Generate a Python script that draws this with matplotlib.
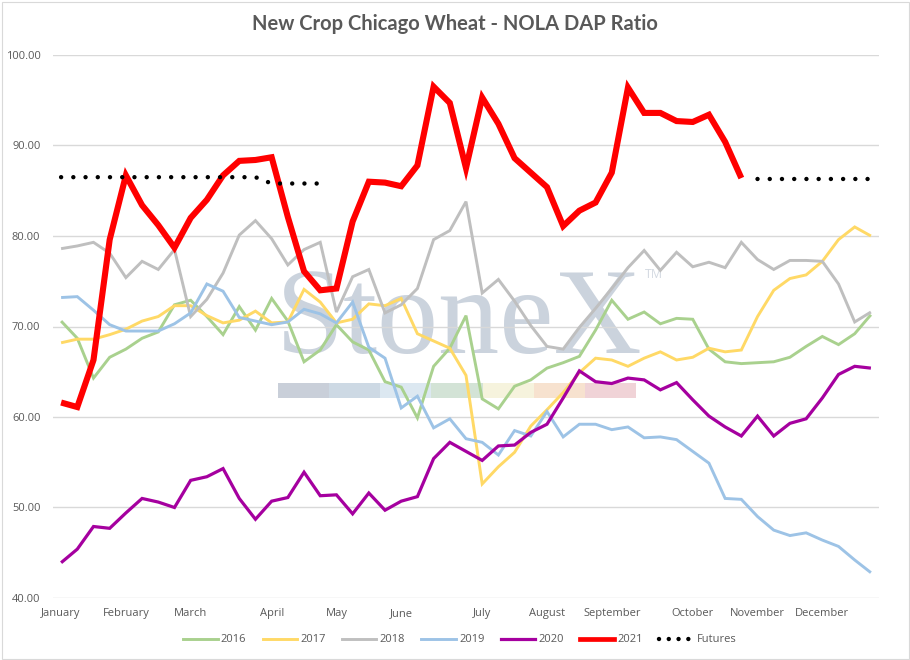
import numpy as np
import matplotlib
matplotlib.use("Agg")
import matplotlib.pyplot as plt
from matplotlib.lines import Line2D
from matplotlib.patches import Rectangle

nan = np.nan

# ---------------- data ----------------
month_labels = ["January", "February", "March", "April", "May", "June",
                "July", "August", "September", "October", "November", "December"]
month_week_index = [0, 4, 8, 13, 17, 21, 26, 30, 34, 39, 43, 47]
n_weeks = 51

y2016 = [70.6, 68.7, 64.3, 66.6, 67.5, 68.7, 69.4, 72.4, 72.9, 71.1,
         69.1, 72.2, 69.6, 73.1, 70.6, 66.1, 67.4, 70.2, 68.3, 67.4,
         63.9, 63.3, 59.9, 65.6, 67.6, 71.2, 62.0, 60.9, 63.4, 64.1,
         65.4, 66.0, 66.7, 69.6, 72.9, 70.8, 71.6, 70.3, 70.9, 70.8,
         67.5, 66.1, 65.9, 66.0, 66.1, 66.6, 67.8, 68.9, 68.0, 69.2, 71.3]

y2017 = [68.2, 68.6, 68.6, 69.1, 69.7, 70.6, 71.1, 72.3, 72.3, 71.2,
         70.4, 70.7, 71.7, 70.4, 70.5, 74.1, 72.7, 70.4, 70.8, 72.5,
         72.3, 73.1, 69.2, 68.4, 67.6, 64.6, 52.6, 54.5, 56.1, 59.0,
         60.8, 62.7, 64.9, 66.5, 66.3, 65.6, 66.5, 67.2, 66.3, 66.6,
         67.6, 67.2, 67.4, 71.1, 74.0, 75.3, 75.7, 77.2, 79.6, 81.0, 80.0]

y2018 = [78.6, 78.9, 79.3, 78.1, 75.4, 77.2, 76.3, 78.5, 71.1, 73.0,
         75.9, 80.1, 81.7, 79.7, 76.8, 78.5, 79.3, 71.6, 75.5, 76.3,
         71.5, 72.4, 74.2, 79.6, 80.6, 83.8, 73.7, 75.2, 72.8, 70.1,
         67.8, 67.5, 69.9, 72.0, 74.2, 76.5, 78.4, 76.2, 78.2, 76.6,
         77.1, 76.5, 79.3, 77.4, 76.3, 77.3, 77.3, 77.2, 74.7, 70.5, 71.6]

y2019 = [73.2, 73.3, 71.8, 70.2, 69.5, 69.5, 69.5, 70.3, 71.5, 74.7,
         73.9, 71.0, 70.6, 70.2, 70.5, 71.9, 71.4, 70.4, 72.7, 67.7,
         66.5, 61.0, 62.3, 58.8, 59.8, 57.6, 57.2, 55.8, 58.5, 57.9,
         60.6, 57.8, 59.2, 59.2, 58.6, 58.9, 57.7, 57.8, 57.5, 56.2,
         54.9, 51.0, 50.9, 49.0, 47.5, 46.9, 47.2, 46.4, 45.7, 44.2, 42.8]

y2020 = [43.9, 45.4, 47.9, 47.7, 49.4, 51.0, 50.6, 50.0, 53.0, 53.4,
         54.3, 51.0, 48.7, 50.7, 51.1, 53.9, 51.3, 51.4, 49.3, 51.6,
         49.7, 50.7, 51.2, 55.4, 57.2, 56.2, 55.2, 56.8, 56.9, 58.3,
         59.2, 62.1, 65.1, 63.9, 63.7, 64.3, 64.1, 63.0, 63.8, 61.9,
         60.1, 58.9, 57.9, 60.1, 57.9, 59.3, 59.8, 62.1, 64.7, 65.6, 65.4]

y2021 = [61.6, 61.1, 66.3, 79.6, 86.7, 83.4, 81.2, 78.7, 82.0, 84.0,
         86.7, 88.3, 88.4, 88.7, 82.1, 76.1, 74.0, 74.2, 81.6, 86.0,
         85.9, 85.5, 87.8, 96.5, 94.7, 87.5, 95.3, 92.4, 88.6, 87.0,
         85.4, 81.1, 82.8, 83.7, 87.0, 96.4, 93.6, 93.6, 92.7, 92.6,
         93.4, 90.4, 86.4, nan, nan, nan, nan, nan, nan, nan, nan]

futures = [86.5, 86.5, 86.5, 86.5, 86.5, 86.5, 86.5, 86.5, 86.5, 86.5,
           86.5, 86.5, 86.5, 85.8, 85.8, 85.8, 85.8, nan, nan, nan,
           nan, nan, nan, nan, nan, nan, nan, nan, nan, nan,
           nan, nan, nan, nan, nan, nan, nan, nan, nan, nan,
           nan, nan, nan, 86.3, 86.3, 86.3, 86.3, 86.3, 86.3, 86.3, 86.3]

y_ticks = [40, 50, 60, 70, 80, 90, 100]

# ---------------- styling ----------------
W, H = 910, 660
fig = plt.figure(figsize=(W / 100, H / 100), dpi=100)
fig.patch.set_facecolor("white")

ax_l, ax_r, ax_t, ax_b = 53, 879, 55, 598
ax = fig.add_axes([ax_l / W, (H - ax_b) / H, (ax_r - ax_l) / W, (ax_b - ax_t) / H])

x = np.arange(n_weeks)
series = [
    ("2016", y2016, "#A9D18E", 2.1),
    ("2017", y2017, "#FFD966", 2.1),
    ("2018", y2018, "#BFBFBF", 2.1),
    ("2019", y2019, "#9DC3E6", 2.1),
    ("2020", y2020, "#A5009F", 2.3),
    ("2021", y2021, "#FF0000", 4.4),
]

handles = []
for name, ys, col, lw in series:
    ax.plot(x, ys, color=col, lw=lw, solid_joinstyle="miter", solid_capstyle="butt", zorder=3)
    handles.append(Line2D([], [], color=col, lw=lw if name != "2021" else 3.4, label=name))

dot_lw = 3.2
dot_style = (0, (0.001, 2.75))
ax.plot(x, futures, color="black", lw=dot_lw, linestyle=dot_style,
        dash_capstyle="round", zorder=4)
handles.append(Line2D([], [], color="black", lw=dot_lw, linestyle=(0, (0.001, 2.2)),
                      dash_capstyle="round", label="Futures"))

ax.set_xlim(-0.5, n_weeks - 0.5)
ax.set_ylim(40, 100)
ax.set_yticks(y_ticks)
ax.set_yticklabels([f"{v:.2f}" for v in y_ticks])
ax.set_xticks(month_week_index)
ax.set_xticklabels(month_labels)

for lab in ax.get_xticklabels() + ax.get_yticklabels():
    lab.set_fontfamily(["Open Sans", "DejaVu Sans"])
    lab.set_fontsize(8)
    lab.set_color("#595959")
ax.tick_params(axis="both", length=0)
ax.tick_params(axis="x", pad=7)
ax.tick_params(axis="y", pad=9)

ax.grid(axis="y", color="#D9D9D9", lw=1.0)
ax.set_axisbelow(True)
for sp in ax.spines.values():
    sp.set_visible(False)

# ---------------- watermark ----------------
def fx(px):
    return (px - ax_l) / (ax_r - ax_l)

def fy(py):
    return (ax_b - py) / (ax_b - ax_t)

ax.text(fx(276), fy(353), "StoneX", transform=ax.transAxes, ha="left", va="baseline",
        fontsize=88, family=["Liberation Serif"], color="#CBD3DD", zorder=0.2)
ax.text(fx(645), fy(278), "TM", transform=ax.transAxes, ha="left", va="baseline",
        fontsize=9, family=["Open Sans", "DejaVu Sans"], color="#D3D9E1", zorder=0.2)

bar_colors = ["#C9CFD9", "#CDD9E4", "#DCE8F1", "#D3E3D6", "#F6F3DD", "#F7E2CF", "#F0D3D7"]
seg_w = (636 - 278) / len(bar_colors)
for k, c in enumerate(bar_colors):
    x0 = 278 + k * seg_w
    ax.add_patch(Rectangle((fx(x0), fy(398)), seg_w / (ax_r - ax_l), 15.5 / (ax_b - ax_t),
                           transform=ax.transAxes, facecolor=c, edgecolor="none", zorder=0.2))

# ---------------- title ----------------
fig.text(0.5, (H - 24) / H, "New Crop Chicago Wheat - NOLA DAP Ratio",
         ha="center", va="center", fontsize=14.5, fontweight="bold",
         family=["Lato", "DejaVu Sans"], color="#595959")

# ---------------- legend ----------------
leg = fig.legend(handles=handles, loc="center", bbox_to_anchor=(460 / W, (H - 640) / H),
                 ncol=7, frameon=False, handlelength=3.1, handletextpad=0.3,
                 columnspacing=1.45, prop={"family": ["Open Sans", "DejaVu Sans"], "size": 8})
for t in leg.get_texts():
    t.set_color("#595959")

# chart border
fig.patches.append(Rectangle((1.5 / W, 1.5 / H), (907 / W), (657 / H), transform=fig.transFigure,
                             fill=False, edgecolor="#D9D9D9", lw=0.8))

fig.savefig("out.png", dpi=100, facecolor="white")
